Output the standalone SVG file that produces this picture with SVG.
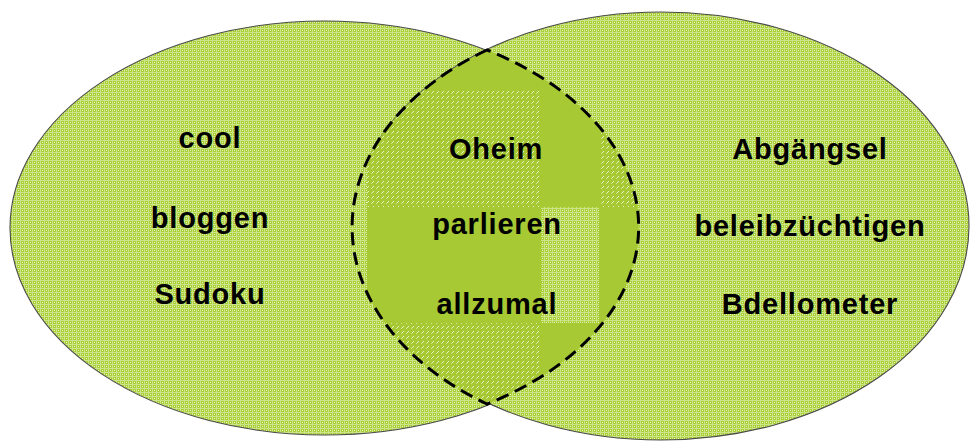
<svg xmlns="http://www.w3.org/2000/svg" width="971" height="442" viewBox="0 0 971 442">
  <style>
    .set { stroke: #4a4a4a; stroke-width: 1.1; fill: url(#grid); }
    .lens { fill: #a6c934; }
    .lens-edge { fill: none; stroke: #000; stroke-width: 3; stroke-dasharray: 13 7; }
    .label { font-family: "Liberation Sans", Arial, sans-serif; font-weight: bold; font-size: 29px; letter-spacing: 0.8px; fill: #000; text-anchor: middle; }
  </style>
  <defs>
    <!-- light dotted grid texture used for the set areas -->
    <pattern id="grid" width="4" height="4" patternUnits="userSpaceOnUse">
      <rect width="4" height="4" fill="#abcf36"/>
      <rect width="4" height="1" fill="#cde58a"/>
      <rect width="1" height="4" fill="#cde58a"/>
      <rect x="2" y="2" width="1" height="1" fill="#eaf5c6"/>
    </pattern>
    <!-- short diagonal dash texture -->
    <pattern id="hatch" width="5" height="5" patternUnits="userSpaceOnUse">
      <rect width="5" height="5" fill="#a6c934"/>
      <rect x="3" y="1" width="1" height="1" fill="#e6f2c4"/>
      <rect x="2" y="2" width="1" height="1" fill="#e6f2c4"/>
      <rect x="1" y="3" width="1" height="1" fill="#d0e498"/>
    </pattern>
    <clipPath id="lensClip">
      <path d="M487,50 A308,214 0 0,0 487,404 A315,207 0 0,0 487,50 Z"/>
    </clipPath>
  </defs>

  <g id="set-left">
    <ellipse class="set" cx="325" cy="228" rx="315" ry="207"/>
  </g>
  <g id="set-right">
    <ellipse class="set" cx="661" cy="226" rx="308" ry="214"/>
  </g>

  <g id="intersection">
    <path class="lens" d="M487,50 A308,214 0 0,0 487,404 A315,207 0 0,0 487,50 Z"/>
    <g clip-path="url(#lensClip)">
      <!-- upper band -->
      <rect x="340" y="90" width="27" height="233" fill="url(#grid)"/>
      <rect x="367" y="90" width="174" height="117" fill="url(#hatch)"/>
      <rect x="599" y="90" width="50" height="117" fill="url(#hatch)"/>
      <!-- middle band -->
      <rect x="541" y="207" width="58" height="116" fill="url(#grid)"/>
      <!-- lower band -->
      <rect x="340" y="323" width="201" height="90" fill="url(#hatch)"/>
    </g>
    <path class="lens-edge" d="M487,50 A308,214 0 0,0 487,404 A315,207 0 0,0 487,50 Z"/>
  </g>

  <g id="labels-left">
    <text class="label" x="210" y="148">cool</text>
    <text class="label" x="210" y="228">bloggen</text>
    <text class="label" x="210" y="304">Sudoku</text>
  </g>
  <g id="labels-middle">
    <text class="label" x="496" y="159">Oheim</text>
    <text class="label" x="497" y="234">parlieren</text>
    <text class="label" x="497" y="314">allzumal</text>
  </g>
  <g id="labels-right">
    <text class="label" x="810" y="159">Abgängsel</text>
    <text class="label" x="810" y="236">beleibzüchtigen</text>
    <text class="label" x="810" y="314">Bdellometer</text>
  </g>
</svg>
